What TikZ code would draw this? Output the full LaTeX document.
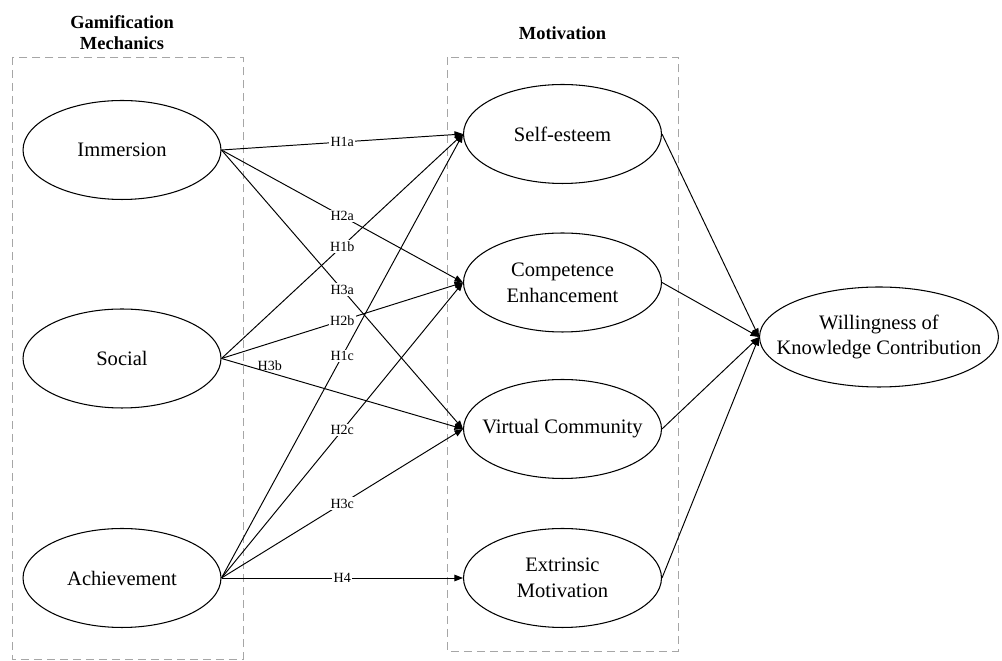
\documentclass[tikz,border=0pt]{standalone}
\usepackage{fontspec}
\setmainfont{Liberation Serif}
\usetikzlibrary{arrows.meta, shapes.geometric}

\tikzset{
  construct/.style={draw, ellipse, line width=0.6pt, inner sep=0pt,
    minimum width=3.96cm, minimum height=1.98cm, align=center,
    font=\fontsize{11.7}{14.7}\selectfont},
  hyp/.style={line width=0.55pt, -{Triangle[length=1.7mm, width=1.3mm]}},
  hlabel/.style={midway, fill=white, inner sep=0.8pt, font=\fontsize{8}{9.6}\selectfont},
  groupbox/.style={draw=gray!70, dash pattern=on 1.6mm off 1mm, line width=0.5pt},
  header/.style={align=center, font=\fontsize{10.5}{12}\selectfont\bfseries}
}

\begin{document}
\begin{tikzpicture}[x=0.02cm, y=-0.02cm]
    \useasboundingbox (0,0) rectangle (1002,661);

    % Define parameters for easy adjustment
    \def\leftX{122}     % centre of the mechanics column
    \def\midX{562.5}    % centre of the motivation column

    % 1. Dashed group boxes and their headers
    \draw[groupbox] (12,57) rectangle (243,659);
    \draw[groupbox] (447,57) rectangle (678,651);
    \node[header] (mechHead) at (\leftX,33) {Gamification\\Mechanics};
    \node[header] (motHead) at (\midX,33) {Motivation};

    % 2. Gamification mechanics (left column)
    \node[construct] (imm) at (\leftX,150) {Immersion};
    \node[construct] (soc) at (\leftX,358.5) {Social};
    \node[construct] (ach) at (\leftX,578) {Achievement};

    % 3. Motivation constructs (middle column)
    \node[construct] (self) at (\midX,134) {Self-esteem};
    \node[construct] (comp) at (\midX,282.5) {Competence\\Enhancement};
    \node[construct, inner xsep=-2.4mm] (virt) at (\midX,429) {Virtual Community};
    \node[construct] (extr) at (\midX,578) {Extrinsic\\Motivation};

    % 4. Outcome (negative xsep keeps the ellipse as narrow as drawn)
    \node[construct, inner xsep=-3.8mm, minimum width=4.78cm, minimum height=2cm]
      (will) at (879,337) {Willingness of\\Knowledge Contribution};

    % 5. Hypothesised paths
    \draw[hyp] (imm.east) -- (self.west) node[hlabel] {H1a};
    \draw[hyp] (imm.east) -- (comp.west) node[hlabel] {H2a};
    \draw[hyp] (imm.east) -- (virt.west) node[hlabel] {H3a};
    \draw[hyp] (soc.east) -- (self.west) node[hlabel] {H1b};
    \draw[hyp] (soc.east) -- (comp.west) node[hlabel] {H2b};
    \draw[hyp] (soc.east) -- (virt.west)
      node[pos=0.2, above, inner sep=1pt, font=\fontsize{8}{9.6}\selectfont] {H3b};
    \draw[hyp] (ach.east) -- (self.west) node[hlabel] {H1c};
    \draw[hyp] (ach.east) -- (comp.west) node[hlabel] {H2c};
    \draw[hyp] (ach.east) -- (virt.west) node[hlabel] {H3c};
    \draw[hyp] (ach.east) -- (extr.west) node[hlabel] {H4};

    % 6. Paths into the outcome
    \foreach \m in {self, comp, virt, extr} {
        \draw[hyp] (\m.east) -- (will.west);
    }
\end{tikzpicture}
\end{document}
